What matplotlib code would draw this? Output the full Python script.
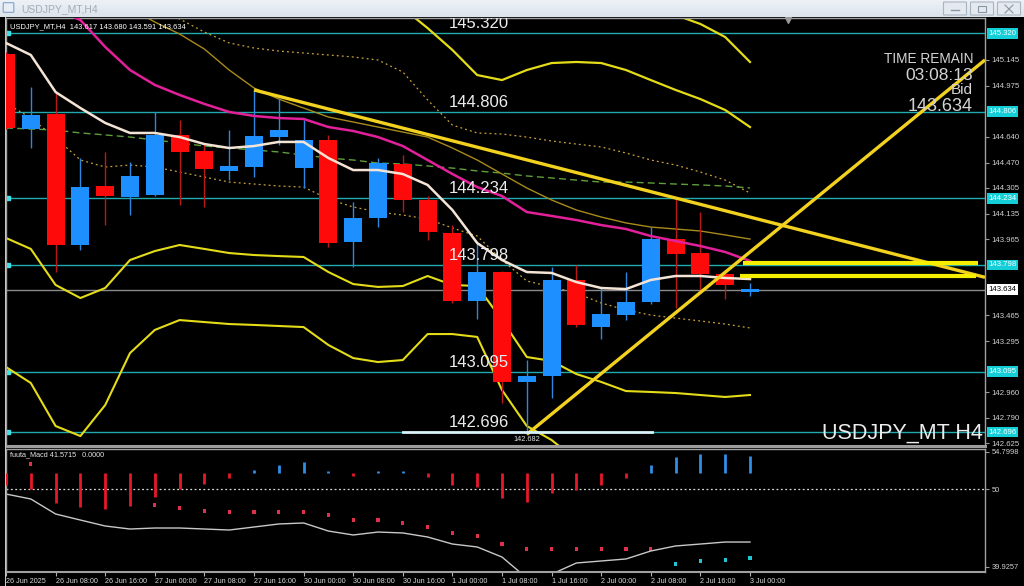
import numpy as np
import matplotlib
matplotlib.use('Agg')
import matplotlib.pyplot as plt
import matplotlib.transforms as mtransforms
from matplotlib.patches import Rectangle, FancyBboxPatch

W, H = 1024, 586
plt.rcParams['font.family'] = ['Liberation Sans', 'DejaVu Sans']
nan = np.nan

# ---------------- data ----------------
date_labels = ['26 Jun 2025', '26 Jun 08:00', '26 Jun 16:00', '27 Jun 00:00', '27 Jun 08:00',
               '27 Jun 16:00', '30 Jun 00:00', '30 Jun 08:00', '30 Jun 16:00', '1 Jul 00:00',
               '1 Jul 08:00', '1 Jul 16:00', '2 Jul 00:00', '2 Jul 08:00', '2 Jul 16:00', '3 Jul 00:00']

bar_open = [145.184, 144.691, 144.790, 143.928, 144.316, 144.244, 144.257, 144.652, 144.546, 144.415,
            144.441, 144.638, 144.434, 144.619, 143.948, 144.106, 144.461, 144.224, 144.007, 143.559,
            143.750, 143.027, 143.066, 143.698, 143.388, 143.467, 143.553, 143.967, 143.875, 143.737,
            143.617]
bar_high = [145.200, 144.967, 144.928, 144.500, 144.540, 144.474, 144.803, 144.750, 144.599, 144.685,
            144.948, 144.895, 144.750, 144.652, 144.211, 144.500, 144.520, 144.250, 144.060, 143.941,
            143.757, 143.171, 143.783, 143.796, 143.645, 143.750, 144.046, 144.237, 144.145, 143.737,
            143.680]
bar_low = [144.690, 144.566, 143.750, 143.895, 144.060, 144.125, 144.250, 144.191, 144.178, 144.355,
           144.375, 144.586, 144.303, 143.915, 143.783, 144.046, 144.145, 143.961, 143.546, 143.441,
           142.888, 142.682, 142.921, 143.388, 143.310, 143.434, 143.540, 143.513, 143.632, 143.573,
           143.591]
bar_close = [144.698, 144.783, 143.928, 144.309, 144.250, 144.382, 144.652, 144.540, 144.428, 144.448,
             144.645, 144.685, 144.619, 143.941, 144.106, 144.467, 144.224, 144.013, 143.559, 143.750,
             143.027, 143.066, 143.698, 143.402, 143.474, 143.553, 143.967, 143.869, 143.737, 143.665,
             143.634]

ma_white = [145.257, 145.178, 144.934, 144.829, 144.731, 144.665, 144.665, 144.638, 144.592, 144.566,
            144.579, 144.606, 144.606, 144.500, 144.421, 144.421, 144.395, 144.323, 144.158, 143.941,
            143.829, 143.750, 143.744, 143.684, 143.645, 143.638, 143.698, 143.724, 143.724, 143.711,
            143.704]
ma_magenta = [145.750, 145.620, 145.480, 145.408, 145.231, 145.079, 144.981, 144.915, 144.856, 144.803,
              144.777, 144.763, 144.757, 144.704, 144.678, 144.638, 144.579, 144.487, 144.395, 144.309,
              144.250, 144.145, 144.119, 144.092, 144.059, 144.033, 143.987, 143.954, 143.921, 143.882,
              143.823]
ma_olive = [nan, nan, nan, nan, nan, 145.487, 145.395, 145.316, 145.217, 145.079,
            144.961, 144.888, 144.829, 144.770, 144.737, 144.704, 144.671, 144.638, 144.566, 144.487,
            144.395, 144.303, 144.224, 144.158, 144.112, 144.073, 144.046, 144.033, 144.020, 143.994,
            143.967]
ma_green = [144.698, 144.691, 144.684, 144.665, 144.652, 144.638, 144.619, 144.599, 144.579, 144.566,
            144.553, 144.540, 144.520, 144.500, 144.487, 144.467, 144.461, 144.448, 144.434, 144.415,
            144.401, 144.382, 144.369, 144.355, 144.342, 144.342, 144.336, 144.329, 144.323, 144.316,
            144.303]
band_dot_upper = [nan, nan, nan, nan, nan, nan, 145.474, 145.415, 145.329, 145.257,
                  145.224, 145.204, 145.191, 145.178, 145.165, 145.145, 145.066, 144.882, 144.717, 144.665,
                  144.658, 144.638, 144.612, 144.592, 144.573, 144.533, 144.487, 144.454, 144.408, 144.355,
                  144.270]
band_dot_lower = [144.862, 144.763, 144.632, 144.487, 144.441, 144.454, 144.441, 144.408, 144.375, 144.342,
                  144.329, 144.316, 144.309, 144.230, 144.178, 144.145, 144.125, 144.099, 144.040, 143.987,
                  143.829, 143.691, 143.652, 143.612, 143.546, 143.500, 143.467, 143.447, 143.428, 143.408,
                  143.382]
env_mid = [143.974, 143.902, 143.665, 143.579, 143.645, 143.829, 143.888, 143.928, 143.902, 143.875,
           143.862, 143.855, 143.849, 143.750, 143.671, 143.652, 143.658, 143.724, 143.665, 143.658,
           143.434, 143.191, 143.165, 143.079, 143.027, 142.967, 142.961, 142.954, 142.941, 142.928,
           142.941]
env_low = [143.125, 143.020, 142.737, 142.671, 142.875, 143.217, 143.369, 143.434, 143.421, 143.408,
           143.402, 143.395, 143.388, 143.270, 143.184, 143.158, 143.171, 143.342, 143.342, 143.323,
           142.974, 142.737, 142.645, 142.513, nan, nan, nan, nan, nan, nan, nan]
env_up1 = [nan] * 16 + [145.487, 145.355, 145.211, 145.046, 145.013, 145.079, 145.125, 145.132, 145.125,
                        145.079, 145.013, 144.948, 144.888, 144.816, 144.704]
env_up2 = [nan] * 26 + [145.507, 145.441, 145.382, 145.296, 145.132]

level_prices = [145.320, 144.806, 144.234, 143.798, 143.095, 142.696]
price_ticks = [145.145, 144.975, 144.640, 144.470, 144.305, 144.135, 143.965, 143.465, 143.295,
               142.960, 142.790, 142.625]
bid_price = 143.634
low_mark = 142.682
trend_down = [(10, 144.948), (27, 144.237)]
trend_up = [(21, 142.682), (30, 143.882)]
yellow_h = [(29.7, 39.2, 143.809), (29.6, 39.1, 143.724)]
low_seg = (16.0, 26.05, 142.696)

macd_base = 52.07
macd_hist = [50.52, 50.00, 48.19, 47.67, 47.42, 47.80, 48.97, 50.00, 50.65, 51.42,
             52.45, 53.10, 53.49, 52.30, 51.68, 52.30, 52.30, 51.55, 50.52, 50.26,
             48.84, 48.32, 49.48, 49.87, 50.52, 51.42, 53.10, 54.13, 54.52, 54.52,
             54.26]
macd_signal = [nan, 53.23, nan, nan, nan, nan, 47.93, 47.55, 47.16, 47.03,
               47.03, 47.03, 47.03, 46.64, 45.99, 45.99, 45.61, 45.09, 44.32, 43.93,
               42.89, 42.25, 42.25, 42.25, 42.25, 42.25, 42.25, 40.31, 40.70, 40.83,
               41.09]
macd_line = [49.35, 48.71, 46.77, 45.99, 45.22, 44.83, 44.96, 44.96, 44.83, 44.70,
             45.09, 45.48, 45.61, 44.57, 44.06, 44.44, 44.32, 43.80, 42.89, 42.51,
             41.21, 38.50, 39.00, 40.44, 40.70, 40.96, 41.99, 42.64, 42.89, 43.15,
             43.15]
macd_ticks = [54.7998, 50, 39.9257]

# ---------------- layout ----------------
fig = plt.figure(figsize=(W / 100, H / 100), dpi=100, facecolor='black')

def fx(px):
    return px / W

def fy(py):
    return 1 - py / H

X_L, X_R = 6, 985
MAIN_T, MAIN_B = 18, 446
MACD_T, MACD_B = 449, 572
BAR_PX = 24.8
xmax = (X_R - X_L) / BAR_PX
p_per_px = 1 / 152.0
ytop = 145.145 + (60 - MAIN_T) * p_per_px
ybot = 145.145 - (MAIN_B - 60) * p_per_px

ax = fig.add_axes([fx(X_L), fy(MAIN_B), fx(X_R - X_L), (MAIN_B - MAIN_T) / H])
ax.set_facecolor('black')
ax.set_xlim(0, xmax)
ax.set_ylim(ybot, ytop)

idx = np.arange(len(bar_open))
o = np.array(bar_open); c = np.array(bar_close)
hi = np.array(bar_high); lo = np.array(bar_low)
up = c >= o

# level lines
for lv in level_prices:
    ax.axhline(lv, color='#21a9ad', lw=1.0, zorder=1)
    ax.plot([0.08], [lv], marker='s', ms=2.5, color='#3fe0e8', zorder=2, clip_on=False)
ax.axhline(bid_price, color='#8a8a8a', lw=1.0, zorder=1)

# indicator lines
ax.plot(idx, band_dot_upper, color='#c9a23c', lw=0.9, ls=(0, (1.5, 2.5)), zorder=2)
ax.plot(idx, band_dot_lower, color='#c9a23c', lw=0.9, ls=(0, (1.5, 2.5)), zorder=2)
ax.plot(idx, ma_green, color='#5f9e3c', lw=1.0, ls=(0, (5, 3)), zorder=2)
ax.plot(idx, ma_olive, color='#a88a1c', lw=1.0, zorder=2)
ax.plot(idx, env_up1, color='#e4dc18', lw=1.6, zorder=2)
ax.plot(idx, env_up2, color='#e4dc18', lw=1.6, zorder=2)
ax.plot(idx, env_mid, color='#e4dc18', lw=1.5, zorder=2)
ax.plot(idx, env_low, color='#e4dc18', lw=1.5, zorder=2)

# candles
wick_col = np.where(up, '#2f86e0', '#b81818')
ax.vlines(idx, lo, hi, colors=wick_col, lw=1.0, zorder=3)
body_h = np.maximum(np.abs(c - o), 0.02)
body_b = np.minimum(o, c)
ax.bar(idx, body_h, bottom=body_b, width=0.72,
       color=np.where(up, '#1e8fff', '#ff0a0a'), edgecolor='none', zorder=4)

ax.plot(idx, ma_magenta, color='#e2209a', lw=1.8, zorder=5)
ax.plot(idx, ma_white, color='#f3e4d6', lw=1.8, zorder=5)

# trend lines (rays to the right edge)
for (x0, y0), (x1, y1) in [trend_down, trend_up]:
    s = (y1 - y0) / (x1 - x0)
    ax.plot([x0, xmax], [y0, y0 + s * (xmax - x0)], color='#f2d21e', lw=2.4, zorder=6,
            solid_capstyle='butt')
for x0, x1, lv in yellow_h:
    ax.plot([x0, x1], [lv, lv], color='#f6f000', lw=3.0, zorder=6, solid_capstyle='butt')
ax.plot([low_seg[0], low_seg[1]], [low_seg[2], low_seg[2]], color='#d8f2f8', lw=2.0, zorder=6)

# level labels on chart
for lv in level_prices:
    ax.text((449 - X_L) / BAR_PX, lv + 2 * p_per_px, f'{lv:.3f}', color='#ececec', fontsize=12,
            ha='left', va='bottom', zorder=7, clip_on=True)
ax.text(21, low_mark - 2 * p_per_px, f'{low_mark:.3f}', color='#e0e0e0', fontsize=5.3,
        ha='center', va='top', zorder=7)

# price axis
ax.yaxis.tick_right()
ax.set_yticks(price_ticks)
ax.set_yticklabels([f'{t:.3f}' for t in price_ticks])
ax.tick_params(axis='y', colors='#9a9a9a', labelcolor='#d0d0d0', labelsize=5.6, length=3, width=0.8, pad=1.5)
ax.set_xticks([])
trans = mtransforms.blended_transform_factory(ax.transAxes, ax.transData)
for lv in level_prices:
    ax.text(1.0035, lv, f'{lv:.3f}', transform=trans, fontsize=5.6, color='#f4ffff', ha='left',
            va='center', zorder=10, clip_on=False,
            bbox=dict(boxstyle='square,pad=0.22', fc='#15cfd8', ec='none'))
ax.text(1.0035, bid_price, f'{bid_price:.3f}', transform=trans, fontsize=5.6, color='black', ha='left',
        va='center', zorder=10, clip_on=False,
        bbox=dict(boxstyle='square,pad=0.22', fc='white', ec='none'))
for name, sp in ax.spines.items():
    sp.set_color('#a0a0a0')
    sp.set_linewidth(1.0)
ax.spines['bottom'].set_linewidth(2.2)
ax.spines['bottom'].set_color('#9c9c9c')

# shift marker
ax.plot([(788 - X_L) / BAR_PX], [ytop - 2.5 * p_per_px], marker='v', ms=5, color='#9a9a9a',
        zorder=8, clip_on=False)

# ---------------- MACD panel ----------------
ax2 = fig.add_axes([fx(X_L), fy(MACD_B), fx(X_R - X_L), (MACD_B - MACD_T) / H])
ax2.set_facecolor('black')
ax2.set_xlim(0, xmax)
vpp = 1 / 7.74
ax2.set_ylim(50 - (MACD_B - 489) * vpp, 50 + (489 - MACD_T) * vpp)
ax2.axhline(50, color='#d8d8d8', lw=0.9, ls=(0, (1.5, 2)), zorder=1)
hist = np.array(macd_hist)
hcol = np.where(hist >= macd_base, '#2f8ee8', '#e8182a')
ax2.vlines(idx, np.minimum(hist, macd_base), np.maximum(hist, macd_base), colors=hcol, lw=2.0, zorder=3)
sig = np.array(macd_signal)
scol = ['#22c6d2' if i >= 27 else '#e0304e' for i in idx]
ax2.scatter(idx, sig, s=5, c=scol, marker='s', linewidths=0, zorder=2)
ax2.plot(idx, macd_line, color='#c8c8c8', lw=1.0, zorder=2)
ax2.yaxis.tick_right()
ax2.set_yticks(macd_ticks)
ax2.set_yticklabels(['54.7998', '50', '39.9257'])
ax2.tick_params(axis='y', colors='#9a9a9a', labelcolor='#d0d0d0', labelsize=5.4, length=3, width=0.8, pad=1.5)
ax2.set_xticks(np.arange(0, 31, 2))
ax2.set_xticklabels(date_labels)
ax2.tick_params(axis='x', colors='#b0b0b0', labelcolor='#d8d8d8', labelsize=5.2, length=3, width=0.8, pad=1.0)
for lab in ax2.get_xticklabels():
    lab.set_ha('left')
for name, sp in ax2.spines.items():
    sp.set_color('#a0a0a0')
    sp.set_linewidth(1.0)
ax2.spines['bottom'].set_linewidth(1.5)

# ---------------- overlays / texts ----------------
fig.text(fx(10), fy(27), 'USDJPY_MT,H4  143.617 143.680 143.591 143.634', color='white',
         fontsize=5.4, ha='left', va='center')
fig.text(fx(10), fy(455), 'fuuta_Macd 41.5715   0.0000', color='#e8e8e8', fontsize=5.2,
         ha='left', va='center')
fig.text(fx(973), fy(59), 'TIME REMAIN', color='#d4d4d4', fontsize=9.8, ha='right', va='center')
fig.text(fx(973), fy(75), '03:08:13', color='#d4d4d4', fontsize=12.5, ha='right', va='center')
fig.text(fx(973), fy(90), 'Bid', color='#d4d4d4', fontsize=11, ha='right', va='center')
fig.text(fx(973), fy(107), '143.634', color='#d4d4d4', fontsize=13, ha='right', va='center')
fig.text(fx(983), fy(433), 'USDJPY_MT H4', color='#ececec', fontsize=15.5, ha='right', va='center')

# title bar
axt = fig.add_axes([0, fy(17), 1, 17 / H])
grad = np.linspace(0, 1, 32).reshape(-1, 1)
axt.imshow(grad, extent=[0, W, 17, 0], cmap=matplotlib.colors.LinearSegmentedColormap.from_list(
    'tb', ['#eef2f7', '#dbe3ec']), aspect='auto')
axt.set_xlim(0, W)
axt.set_ylim(17, 0)
axt.axis('off')
axt.add_patch(FancyBboxPatch((4, 3.5), 9, 8, boxstyle='round,pad=0.8', fc='#e8eef6', ec='#7fa2c8', lw=0.8))
axt.text(21, 9, 'USDJPY_MT,H4', color='#a4acb6', fontsize=7.5, ha='left', va='center')
for bx in (944, 971, 998):
    axt.add_patch(FancyBboxPatch((bx, 2.5), 22, 12, boxstyle='round,pad=0.5', fc='#e4e9ef',
                                 ec='#aab4c0', lw=0.8))
axt.plot([951, 959], [9.5, 9.5], color='#8a96a4', lw=1)
axt.add_patch(Rectangle((978, 5.5), 8, 6, fc='none', ec='#8a96a4', lw=0.8))
axt.plot([1005, 1013], [5, 13], color='#8a96a4', lw=0.8)
axt.plot([1005, 1013], [13, 5], color='#8a96a4', lw=0.8)

# left frame line
fig.add_artist(Rectangle((fx(4.5), fy(586)), fx(1.5), 1 - 17 / H, transform=fig.transFigure,
                         fc='#c4c8cc', ec='none'))

fig.savefig('out.png', dpi=100, facecolor='black')
